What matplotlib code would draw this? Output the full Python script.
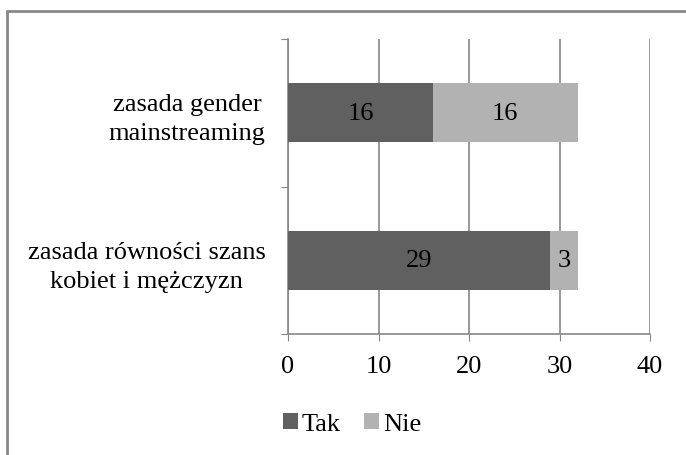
import matplotlib.pyplot as plt
from matplotlib.patches import Rectangle

categories = ["zasada równości szans\nkobiet i mężczyzn", "zasada gender\nmainstreaming"]
tak = [29, 16]
nie = [3, 16]
xticks = [0, 10, 20, 30, 40]

plt.rcParams['font.family'] = ['Liberation Serif', 'DejaVu Serif']
FS = 19

fig = plt.figure(figsize=(6.86, 4.56), dpi=100)
ax = fig.add_axes([288/686, 1 - 335/456, (650 - 288)/686, (335 - 40)/456])

# outer chart frame (cut off at right/bottom like the original)
fig.patches.append(Rectangle((7/686, -0.1), 1.1, 1 - 12/456 + 0.1, transform=fig.transFigure,
                             fill=False, edgecolor='#888888', linewidth=2))

pos = range(len(categories))
b1 = ax.barh(pos, tak, height=0.4, color='#606060', label='Tak', zorder=3)
b2 = ax.barh(pos, nie, left=tak, height=0.4, color='#b2b2b2', label='Nie', zorder=3)

for bars, vals, starts in [(b1, tak, [0, 0]), (b2, nie, tak)]:
    for bar, v, s in zip(bars, vals, starts):
        ax.text(s + v / 2, bar.get_y() + bar.get_height() / 2, str(v),
                ha='center', va='center', fontsize=FS, color='black', zorder=4)

ax.set_xlim(0, 40)
ax.set_ylim(-0.5, 1.5)
ax.set_xticks(xticks)
ax.set_xticklabels([str(t) for t in xticks], fontsize=FS)
ax.set_yticks([-0.5, 0.5, 1.5], minor=False)
ax.set_yticklabels([])
ax.set_yticks(list(pos), minor=True)
ax.set_yticklabels(categories, minor=True, fontsize=FS, ha='right', multialignment='center',
                   linespacing=1.4)
ax.tick_params(axis='y', which='minor', length=0, pad=16)
ax.tick_params(axis='y', which='major', length=5, color='#888888')
ax.tick_params(axis='x', length=5, color='#888888', pad=10)

ax.grid(axis='x', color='#888888', linewidth=1.2, zorder=0)
for s in ['top', 'right']:
    ax.spines[s].set_visible(False)
for s in ['left', 'bottom']:
    ax.spines[s].set_color('#888888')
    ax.spines[s].set_linewidth(1.2)

ax.legend(loc='center', bbox_to_anchor=(352/686, 1 - 425/456), bbox_transform=fig.transFigure,
          ncol=2, frameon=False, fontsize=FS, handlelength=0.55, handleheight=0.55,
          handletextpad=0.15, columnspacing=0.9)

fig.savefig('out.png', dpi=100)
